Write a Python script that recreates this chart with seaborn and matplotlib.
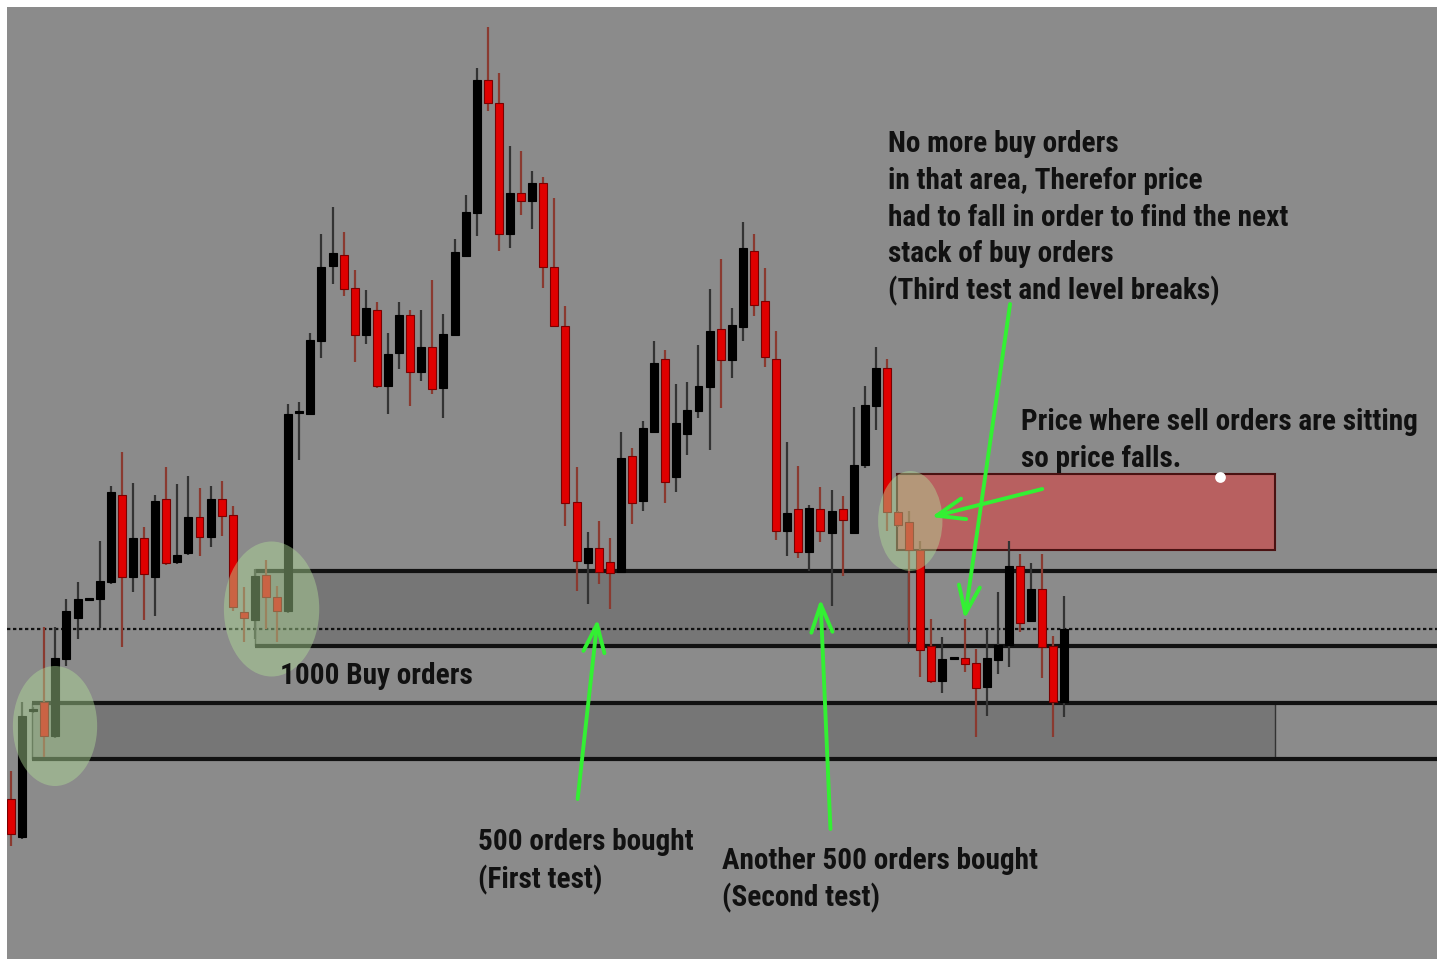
import matplotlib
matplotlib.use("Agg")
import matplotlib.pyplot as plt
from matplotlib.patches import Ellipse, Rectangle
import pandas
import seaborn as sns

# OHLC (arbitrary price units, higher = up)
opens = [200, 162, 288, 297, 263, 340, 381, 399, 400, 417, 504, 422, 461, 422, 500, 437,
         446, 482, 462, 500, 484, 387, 379, 424, 402, 388, 586, 585, 658, 733, 744, 711,
         664, 689, 613, 646, 684, 627, 652, 611, 664, 743, 786, 919, 896, 765, 806, 798,
         816, 732, 673, 497, 436, 451, 437, 427, 543, 498, 567, 640, 522, 565, 588, 612,
         670, 639, 672, 748, 698, 640, 468, 490, 447, 490, 466, 490, 466, 534, 593, 631,
         487, 477, 449, 353, 318, 340, 341, 336, 312, 339, 354, 433, 378, 410, 353, 297]
highs = [228, 297, 292, 372, 372, 400, 417, 401, 458, 513, 547, 516, 472, 504, 532, 515,
         523, 511, 513, 518, 493, 412, 430, 439, 413, 595, 597, 666, 765, 792, 767, 729,
         709, 697, 666, 697, 689, 689, 719, 685, 760, 804, 931, 972, 926, 853, 848, 828,
         822, 801, 693, 532, 467, 478, 461, 567, 551, 578, 658, 649, 615, 617, 654, 710,
         740, 691, 777, 765, 731, 668, 557, 533, 494, 512, 509, 503, 592, 613, 652, 640,
         488, 488, 458, 380, 362, 341, 380, 350, 370, 407, 458, 445, 436, 445, 363, 403]
lows = [153, 160, 286, 242, 261, 333, 360, 399, 371, 415, 352, 407, 379, 383, 434, 435,
        444, 443, 452, 463, 388, 357, 360, 370, 357, 386, 539, 584, 641, 715, 703, 637,
        655, 611, 585, 630, 593, 618, 605, 581, 663, 742, 763, 888, 748, 751, 784, 770,
        711, 672, 473, 408, 395, 415, 390, 426, 475, 488, 566, 496, 507, 544, 581, 549,
        591, 621, 658, 683, 632, 459, 443, 441, 428, 457, 393, 423, 465, 531, 569, 468,
        472, 357, 322, 316, 306, 339, 327, 262, 283, 325, 332, 367, 377, 321, 262, 282]
closes = [165, 283, 290, 263, 341, 388, 400, 401, 418, 507, 422, 461, 425, 498, 436, 444,
          482, 462, 500, 483, 392, 381, 423, 402, 388, 585, 587, 659, 732, 746, 710, 664,
          691, 613, 645, 684, 627, 652, 610, 665, 747, 787, 919, 896, 765, 806, 798, 816,
          732, 673, 496, 438, 451, 427, 426, 541, 496, 571, 636, 517, 576, 589, 613, 668,
          639, 674, 751, 694, 642, 468, 486, 447, 491, 468, 488, 479, 534, 594, 631, 487,
          474, 449, 349, 318, 340, 341, 335, 311, 341, 354, 433, 376, 410, 352, 297, 370]

# horizontal levels and zones
dotted_level = 370
upper_zone = (353, 428)   # first stack of buy orders
lower_zone = (240, 296)   # next stack of buy orders
sell_zone = (449, 525)    # sell orders
upper_span = (22.0, 80.9)
lower_span = (1.9, 114.0)
sell_span = (79.9, 114.0)

# notes: (x, first baseline, line step, lines)
notes = [
    (24.3, 316, 37, ["1000 Buy orders"]),
    (42.1, 150, 38, ["500 orders bought", "(First test)"]),
    (64.1, 131, 37, ["Another 500 orders bought", "(Second test)"]),
    (79.1, 848, 36.8, ["No more buy orders", "in that area, Therefor price",
                       "had to fall in order to find the next", "stack of buy orders",
                       "(Third test and level breaks)"]),
    (91.1, 570, 37, ["Price where sell orders are sitting", "so price falls."]),
]

X_LEFT, X_RIGHT = -0.36, 128.6
Y_LOW, Y_HIGH = 40, 992

BG = "#8b8b8b"
DARK = "#767676"
UP = "#000000"
DOWN = "#e00000"
GREEN = "#33f033"
TEXT = "#111111"

sns.set_theme(style="dark", rc={"axes.facecolor": BG, "figure.facecolor": "white"})
FONT = ["Roboto Condensed", "Liberation Sans Narrow", "Liberation Sans", "DejaVu Sans"]
plt.rcParams["font.family"] = FONT


def main():
    df = pandas.DataFrame({"open": opens, "high": highs, "low": lows, "close": closes})
    df["i"] = range(len(df))
    df["bull"] = df["close"] >= df["open"]

    fig = plt.figure(figsize=(14.46, 9.62), dpi=100)
    ax = fig.add_axes([7 / 1446, 2 / 962, 1430 / 1446, 952 / 962])
    ax.set_xlim(X_LEFT, X_RIGHT)
    ax.set_ylim(Y_LOW, Y_HIGH)

    # zones
    ax.add_patch(Rectangle((upper_span[0], upper_zone[0]), upper_span[1] - upper_span[0],
                           upper_zone[1] - upper_zone[0], facecolor=DARK, edgecolor="#333333",
                           lw=1, zorder=1))
    ax.add_patch(Rectangle((lower_span[0], lower_zone[0]), lower_span[1] - lower_span[0],
                           lower_zone[1] - lower_zone[0], facecolor=DARK, edgecolor="#333333",
                           lw=1, zorder=1))
    ax.add_patch(Rectangle((sell_span[0], sell_zone[0]), sell_span[1] - sell_span[0],
                           sell_zone[1] - sell_zone[0], facecolor="#b86060", edgecolor="#4a1212",
                           lw=1.5, zorder=1))
    for lvl in upper_zone:
        ax.hlines(lvl, upper_span[0], X_RIGHT, color="#111111", lw=3, zorder=2)
    for lvl in lower_zone:
        ax.hlines(lvl, lower_span[0], X_RIGHT, color="#111111", lw=3, zorder=2)
    ax.hlines(dotted_level, X_LEFT, X_RIGHT, color="#111111", lw=1.6, linestyles=(0, (1.5, 1.2)),
              zorder=2)

    # candles
    wick_col = ["#333333" if b else "#8a3a30" for b in df["bull"]]
    ax.vlines(df["i"], df["low"], df["high"], colors=wick_col, lw=1.6, zorder=3)
    body_lo = df[["open", "close"]].min(axis=1)
    body_h = (df["close"] - df["open"]).abs().clip(lower=2)
    ax.bar(df["i"], body_h, bottom=body_lo, width=0.72,
           color=[UP if b else DOWN for b in df["bull"]],
           edgecolor=["#000000" if b else "#7a0000" for b in df["bull"]], lw=0.8, zorder=4)

    # green highlights
    for (cx, cy, w, h) in [(3.97, 273, 7.6, 120), (23.5, 390, 8.6, 135), (81.1, 478, 5.8, 100)]:
        ax.add_patch(Ellipse((cx, cy), w, h, facecolor="#b0dc98", alpha=0.45, lw=0, zorder=5))

    # arrows
    arrows = [((51.1, 200), (52.9, 380)), ((73.9, 170), (73.0, 400)),
              ((90.1, 695), (86.0, 380)), ((93.0, 510), (83.0, 482))]
    for tail, head in arrows:
        ax.annotate("", xy=head, xytext=tail,
                    arrowprops=dict(arrowstyle="->,head_length=1.0,head_width=0.38",
                                    color=GREEN, lw=2.8, shrinkA=0, shrinkB=0, mutation_scale=20),
                    zorder=6)

    ax.scatter([109.0], [522], s=60, color="white", zorder=7, lw=0)

    # fit the font so the longest line spans about 400 px, as in the picture
    probe = ax.text(0, 0, "had to fall in order to find the next", fontsize=25,
                    fontweight="bold")
    fig.canvas.draw()
    width = probe.get_window_extent().width
    probe.remove()
    size = min(25, 25 * 400 / width)

    for x, y0, step, lines in notes:
        for k, line in enumerate(lines):
            ax.text(x, y0 - k * step, line, color=TEXT, fontsize=size, fontweight="bold",
                    va="baseline", ha="left", zorder=8)

    ax.set_xticks([])
    ax.set_yticks([])
    sns.despine(ax=ax, left=True, bottom=True)
    fig.savefig("out.png", dpi=100, facecolor="white")


if __name__ == "__main__":
    main()
